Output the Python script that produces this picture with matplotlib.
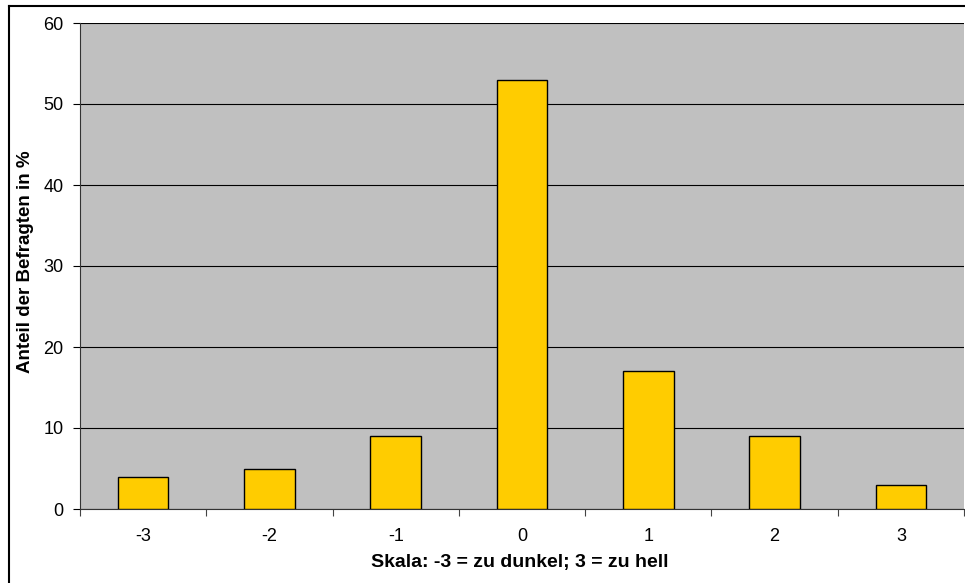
import matplotlib
matplotlib.use("Agg")
import matplotlib.pyplot as plt
from matplotlib.lines import Line2D
import numpy as np

plt.rcParams['font.family'] = ['Liberation Sans', 'DejaVu Sans']

categories = ["-3", "-2", "-1", "0", "1", "2", "3"]
values = [4, 5, 9, 53, 17, 9, 3]

W, H = 965, 583
fig = plt.figure(figsize=(W / 100, H / 100), dpi=100)
ax = fig.add_axes([80 / W, 74 / H, 884 / W, 486 / H])
ax.set_facecolor("#C0C0C0")

x = np.arange(len(categories))
ax.bar(x, values, width=0.40, color="#FFCC00", edgecolor="black", linewidth=1.0, zorder=3)

ax.set_xlim(-0.5, len(categories) - 0.5)
ax.set_ylim(0, 60)
ax.set_yticks(np.arange(0, 61, 10))
ax.yaxis.grid(True, color="black", linewidth=0.8, zorder=1)
ax.set_axisbelow(True)

ax.set_xticks(x)
ax.set_xticklabels(categories)
ax.set_xticks(np.arange(-0.5, len(categories)), minor=True)
ax.tick_params(axis="x", which="major", length=0, pad=14, labelsize=13)
ax.tick_params(axis="x", which="minor", length=5, width=0.8, color="#444444")
ax.tick_params(axis="y", length=5, width=0.8, labelsize=13, pad=7)

for side in ("top", "right"):
    ax.spines[side].set_visible(False)
ax.spines["left"].set_color("#333333")
ax.spines["bottom"].set_color("#333333")

ax.set_xlabel("Skala: -3 = zu dunkel; 3 = zu hell", fontsize=14, fontweight="bold")
ax.set_ylabel("Anteil der Befragten in %", fontsize=13.5, fontweight="bold")
ax.xaxis.set_label_coords(520 / W, 1 - 563 / H, transform=fig.transFigure)
ax.yaxis.set_label_coords(25.5 / W, 1 - 261.5 / H, transform=fig.transFigure)
ax.xaxis.label.set_verticalalignment("center")
ax.yaxis.label.set_verticalalignment("center")

# outer chart frame
fig.add_artist(Line2D([9 / W, 1.0], [1 - 6 / H, 1 - 6 / H], transform=fig.transFigure,
                      color="black", linewidth=1.5))
fig.add_artist(Line2D([9 / W, 9 / W], [0, 1 - 6 / H], transform=fig.transFigure,
                      color="black", linewidth=1.5))

fig.savefig("out.png", dpi=100)
